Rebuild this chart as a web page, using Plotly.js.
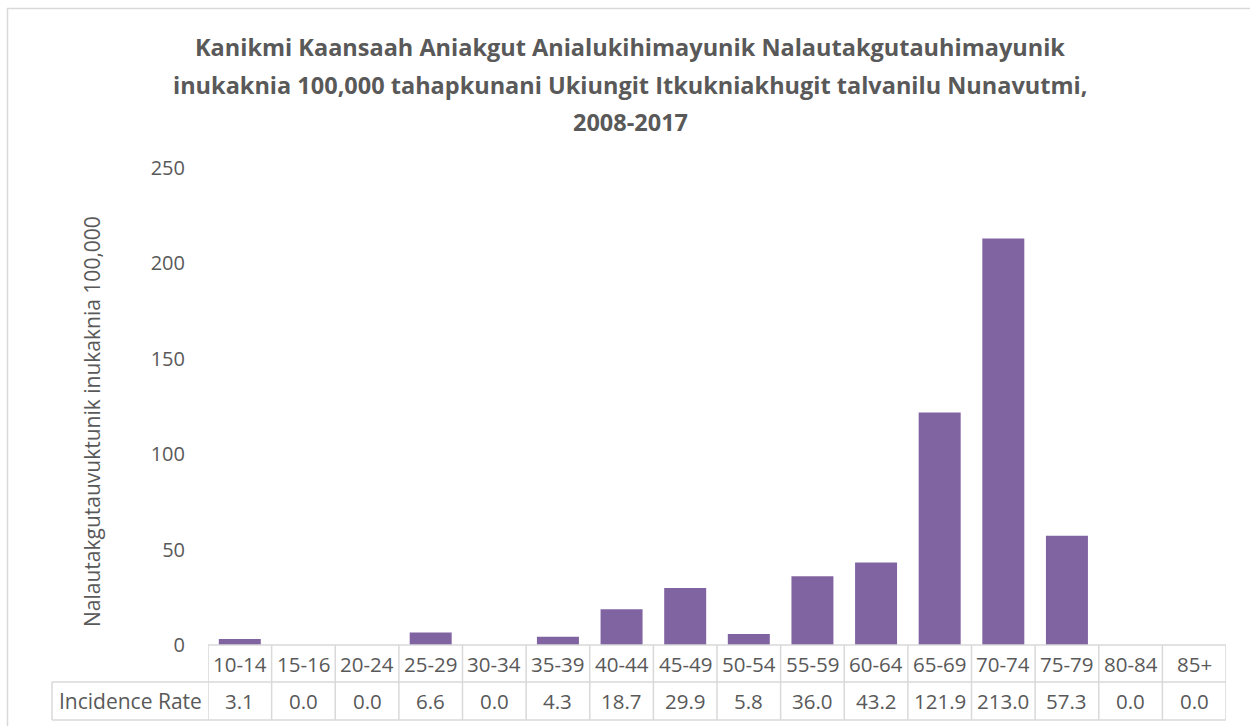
<!DOCTYPE html>
<html>
<head>
<meta charset="utf-8">
<script src="https://cdn.plot.ly/plotly-3.0.1.min.js"></script>
<style>html,body{margin:0;padding:0;background:#fff;}#chart{width:1250px;height:726px;}</style>
</head>
<body>
<div id="chart"></div>
<script>
const categories = ['10-14','15-16','20-24','25-29','30-34','35-39','40-44','45-49','50-54','55-59','60-64','65-69','70-74','75-79','80-84','85+'];
const incidenceRate = [3.1, 0.0, 0.0, 6.6, 0.0, 4.3, 18.7, 29.9, 5.8, 36.0, 43.2, 121.9, 213.0, 57.3, 0.0, 0.0];
const rowLabel = 'Incidence Rate';
const yTicks = [0, 50, 100, 150, 200, 250];
const titleLines = [
  'Kanikmi Kaansaah Aniakgut Anialukihimayunik Nalautakgutauhimayunik',
  'inukaknia 100,000 tahapkunani Ukiungit Itkukniakhugit talvanilu Nunavutmi,',
  '2008-2017'
];
const yTitle = 'Nalautakgutauvuktunik inukaknia 100,000';

const W = 1250, H = 726;
const mL = 208, mR = 24, mT = 168, mB = 81;
const plotW = W - mL - mR, plotH = H - mT - mB;
const px2x = px => (px - mL) / plotW;
const py2y = py => (H - mB - py) / plotH;

const gray = '#595959';
const lineCol = '#d9d9d9';
const font = 'Open Sans, sans-serif';
const xs = categories.map((c, i) => i);

const rowTop = py2y(645), rowMid = py2y(682), rowBot = py2y(720);
const labelLeft = px2x(52);

const shapes = [];
const line = (xref, x0, x1, y0, y1) => ({type:'line', xref:xref, yref:'paper', x0:x0, x1:x1, y0:y0, y1:y1, line:{color:lineCol, width:1.5}, layer:'above'});
shapes.push(line('paper', 0, 1, rowTop, rowTop));
shapes.push(line('paper', labelLeft, 1, rowMid, rowMid));
shapes.push(line('paper', labelLeft, 1, rowBot, rowBot));
for (let i = 0; i <= categories.length; i++) {
  shapes.push(line('x', i - 0.5, i - 0.5, rowTop, rowBot));
}
shapes.push(line('paper', labelLeft, labelLeft, rowMid, rowBot));
shapes.push({type:'rect', xref:'paper', yref:'paper', x0:px2x(7.5), x1:1.2, y0:-0.4, y1:py2y(8.5), line:{color:lineCol, width:1.5}, layer:'below'});

const annotations = [];
titleLines.forEach((t, i) => {
  annotations.push({xref:'paper', yref:'paper', x:px2x(630), y:py2y(47 + i * 37.5), text:'<b>' + t + '</b>', showarrow:false, xanchor:'center', yanchor:'middle', font:{family:font, size:23.5, color:gray}});
});
annotations.push({xref:'paper', yref:'paper', x:px2x(92), y:py2y(422), text:yTitle, textangle:-90, showarrow:false, xanchor:'center', yanchor:'middle', font:{family:font, size:21, color:gray}});
categories.forEach((c, i) => {
  annotations.push({xref:'x', yref:'paper', x:i, y:(rowTop + rowMid) / 2, text:c, showarrow:false, xanchor:'center', yanchor:'middle', font:{family:font, size:20.5, color:gray}});
  annotations.push({xref:'x', yref:'paper', x:i, y:(rowMid + rowBot) / 2, text:incidenceRate[i].toFixed(1), showarrow:false, xanchor:'center', yanchor:'middle', font:{family:font, size:20.5, color:gray}});
});
annotations.push({xref:'paper', yref:'paper', x:labelLeft / 2, y:(rowMid + rowBot) / 2, text:rowLabel, showarrow:false, xanchor:'center', yanchor:'middle', font:{family:font, size:21, color:gray}});

const trace = {
  type:'bar', x:xs, y:incidenceRate, name:rowLabel,
  marker:{color:'#8064a2'}, hoverinfo:'y'
};

const layout = {
  width:W, height:H,
  margin:{l:mL, r:mR, t:mT, b:mB, pad:0},
  paper_bgcolor:'#fff', plot_bgcolor:'#fff',
  showlegend:false,
  bargap:0.34,
  xaxis:{range:[-0.5, categories.length - 0.5], showticklabels:false, showgrid:false, zeroline:false, showline:false, ticks:'', fixedrange:true},
  yaxis:{range:[0, 250], tickvals:yTicks, ticktext:yTicks.map(String), showgrid:false, zeroline:false, showline:false, ticks:'', ticklabelstandoff:22, tickfont:{family:font, size:20, color:gray}, fixedrange:true},
  shapes:shapes,
  annotations:annotations
};

Plotly.newPlot('chart', [trace], layout, {displayModeBar:false, staticPlot:true});
</script>
</body>
</html>
